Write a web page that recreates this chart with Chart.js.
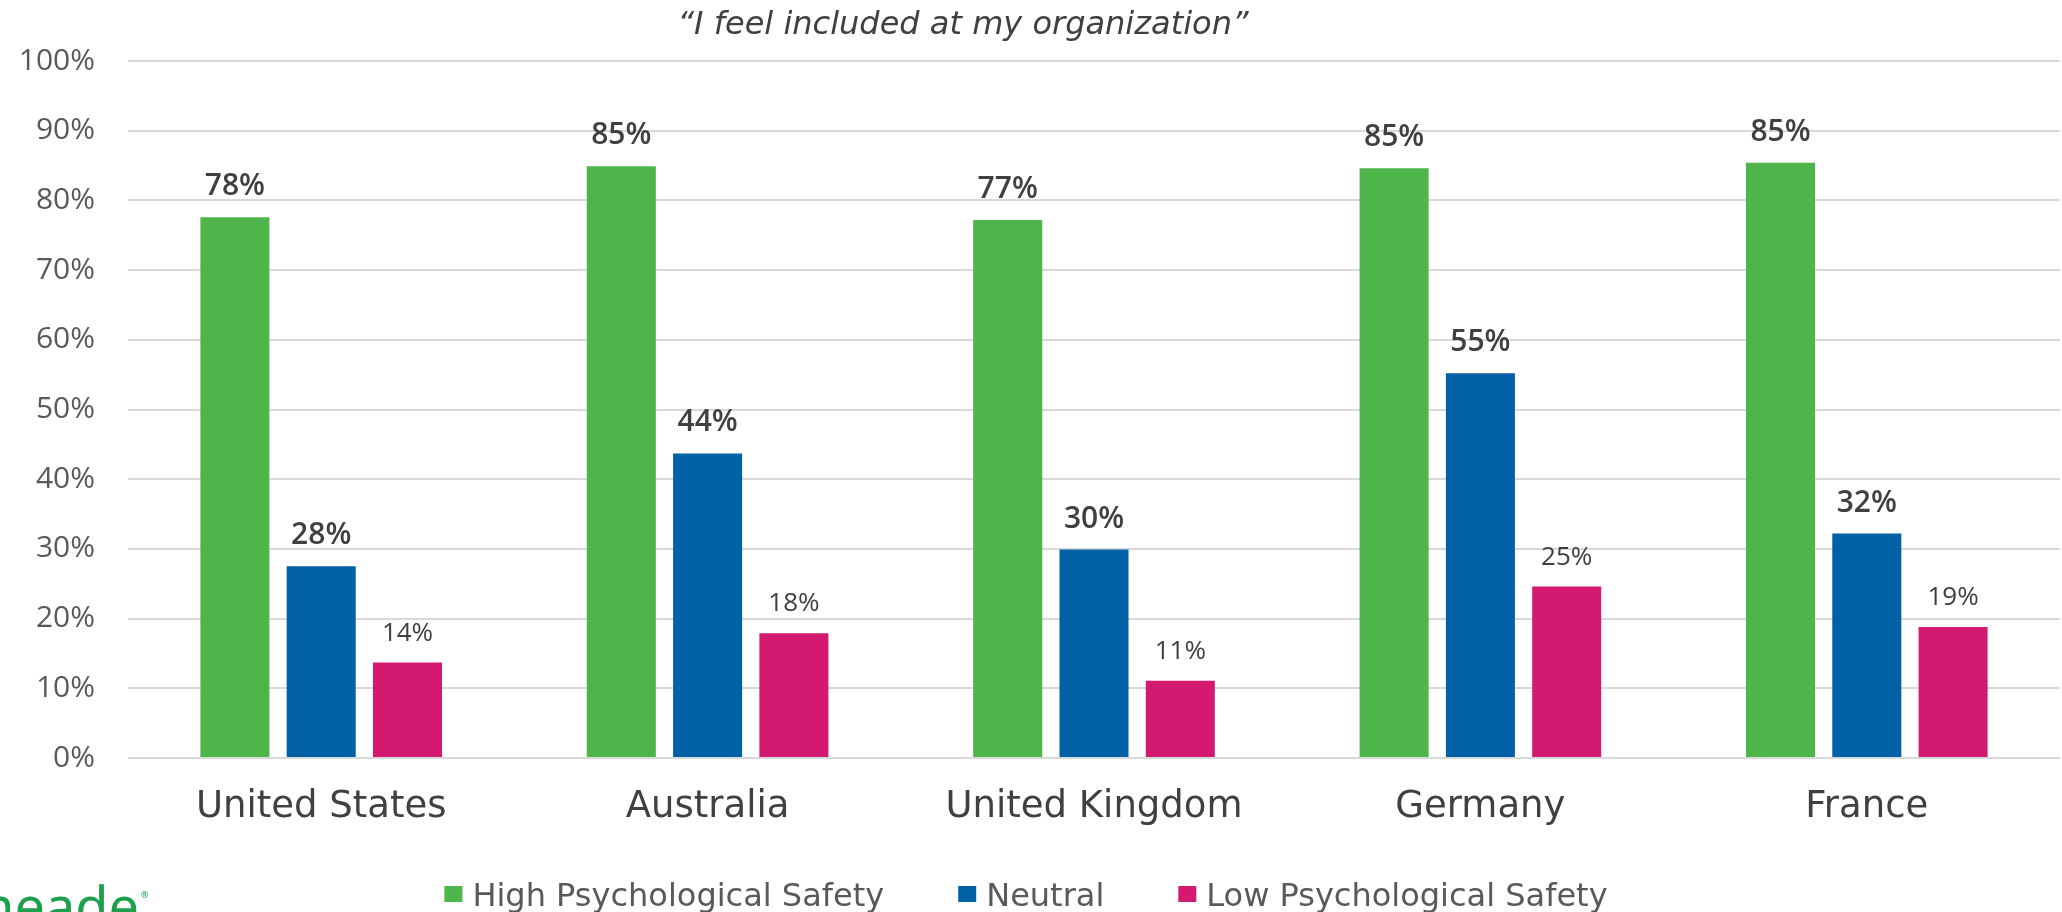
<!DOCTYPE html>
<html>
<head>
<meta charset="utf-8">
<script src="https://cdn.jsdelivr.net/npm/chart.js@4.4.1/dist/chart.umd.min.js"></script>
<style>
    html, body { margin: 0; padding: 0; background: #ffffff; }
    canvas { display: block; }
</style>
</head>
<body>
<canvas id="inclusion-graph" width="2062" height="912"></canvas>
<script>
const countries = ['United States', 'Australia', 'United Kingdom', 'Germany', 'France'];
const seriesNames = ['High Psychological Safety', 'Neutral', 'Low Psychological Safety'];
const highSafety = [77.6, 84.9, 77.2, 84.6, 85.4];
const neutral = [27.5, 43.7, 29.9, 55.2, 32.2];
const lowSafety = [13.7, 17.9, 11.1, 24.6, 18.8];
const seriesColors = ['#4eb54a', '#0061a6', '#d31a70'];
const chartTitle = '\u201cI feel included at my organization\u201d';

const inclusionChart = document.getElementById('inclusion-graph');

// value labels over bars, quote on top, legend and logo at the bottom
const decorations = {
    id: 'decorations',
    afterDatasetsDraw(chart) {
        const ctx = chart.ctx;
        ctx.save();
        ctx.fillStyle = '#404040';
        ctx.textAlign = 'center';
        ctx.textBaseline = 'alphabetic';
        chart.data.datasets.forEach((dataset, i) => {
            ctx.font = i === 2 ? '400 26px "Open Sans"' : '600 30px "Open Sans"';
            chart.getDatasetMeta(i).data.forEach((bar, j) => {
                ctx.fillText(Math.round(dataset.data[j]) + '%', bar.x, bar.y - 22);
            });
        });
        ctx.restore();
    },
    afterDraw(chart) {
        const ctx = chart.ctx;
        ctx.save();

        ctx.fillStyle = '#404040';
        ctx.font = 'italic 32px "DejaVu Sans"';
        ctx.textAlign = 'center';
        ctx.textBaseline = 'alphabetic';
        ctx.fillText(chartTitle, 963, 34);

        // legend
        ctx.font = '32px "DejaVu Sans"';
        ctx.textAlign = 'left';
        const box = 18, boxGap = 10, itemGap = 74;
        const widths = seriesNames.map(name => box + boxGap + ctx.measureText(name).width);
        const total = widths.reduce((a, b) => a + b, 0) + itemGap * (seriesNames.length - 1);
        let x = 1026 - total / 2;
        seriesNames.forEach((name, i) => {
            ctx.fillStyle = seriesColors[i];
            ctx.fillRect(x, 886, box, 16);
            ctx.fillStyle = '#595959';
            ctx.fillText(name, x + box + boxGap, 906);
            x += widths[i] + itemGap;
        });

        // logo, cut by the bottom edge
        ctx.fillStyle = '#1ca04b';
        ctx.font = '54px "Noto Sans"';
        ctx.textAlign = 'right';
        ctx.fillText('Limeade', 139, 926);
        ctx.font = '9px "Noto Sans"';
        ctx.textAlign = 'left';
        ctx.fillText('\u00ae', 141, 898);

        ctx.restore();
    }
};

let inclusionGraph = new Chart(inclusionChart, {
    type: 'bar',
    data: {
        labels: countries,
        datasets: [
            { label: seriesNames[0], data: highSafety, backgroundColor: seriesColors[0] },
            { label: seriesNames[1], data: neutral, backgroundColor: seriesColors[1] },
            { label: seriesNames[2], data: lowSafety, backgroundColor: seriesColors[2] },
        ]
    },
    options: {
        responsive: false,
        animation: false,
        categoryPercentage: 0.67,
        barPercentage: 0.8,
        layout: {
            padding: { top: 61, right: 2, bottom: 0, left: 0 }
        },
        plugins: {
            legend: { display: false },
            tooltip: { enabled: false },
        },
        scales: {
            x: {
                grid: { display: false },
                border: { display: false },
                ticks: {
                    padding: 19,
                    color: '#404040',
                    font: { family: '"DejaVu Sans"', size: 37 },
                },
                afterFit: (scale) => { scale.height = 154; },
            },
            y: {
                min: 0,
                max: 100,
                border: { display: false },
                grid: { color: '#d9d9d9', lineWidth: 2, drawTicks: false },
                ticks: {
                    stepSize: 10,
                    padding: 33,
                    color: '#595959',
                    font: { family: '"Open Sans"', size: 30 },
                    callback: (value) => value + '%',
                },
                afterFit: (scale) => { scale.width = 128; },
            }
        }
    },
    plugins: [decorations],
});
</script>
</body>
</html>
